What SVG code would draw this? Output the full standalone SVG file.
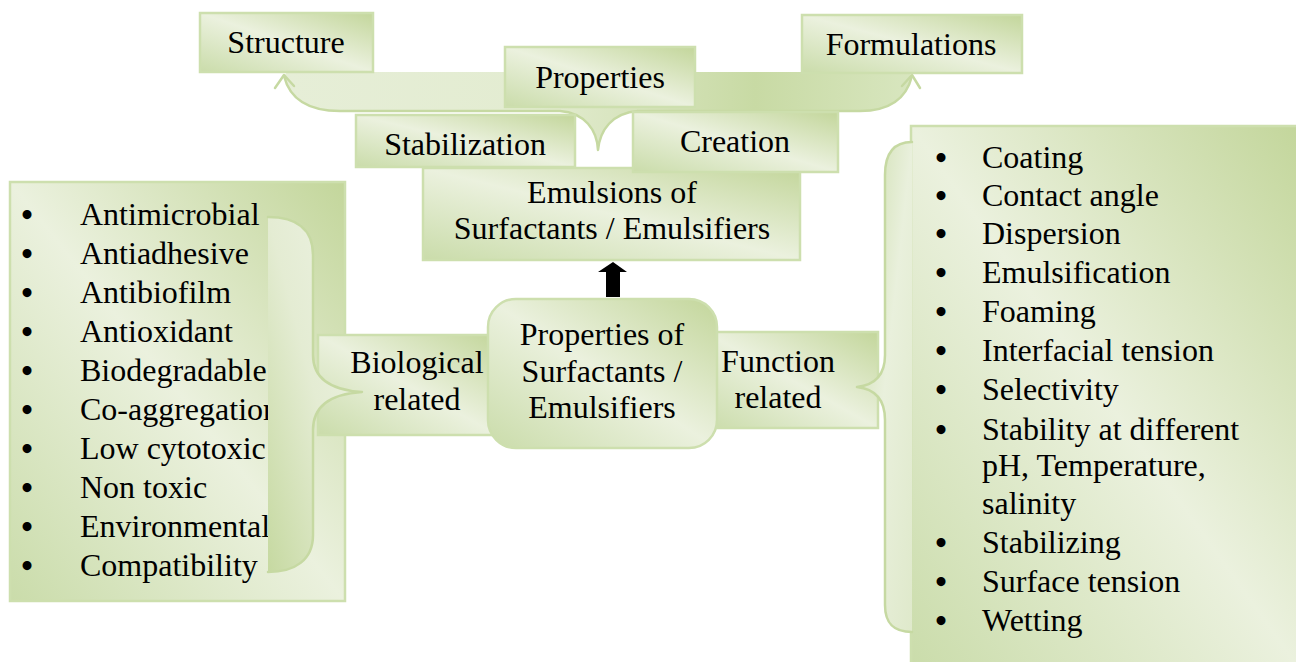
<svg xmlns="http://www.w3.org/2000/svg" width="1296" height="662" viewBox="0 0 1296 662">
  <defs>
    <linearGradient id="gBox" x1="1" y1="0" x2="0" y2="1">
      <stop offset="0" stop-color="#c3d69b"/>
      <stop offset="0.5" stop-color="#ebf1de"/>
      <stop offset="1" stop-color="#cadcaa"/>
    </linearGradient>
    <linearGradient id="gBraceL" x1="1" y1="0" x2="0" y2="1">
      <stop offset="0" stop-color="#eef3e5"/>
      <stop offset="0.5" stop-color="#e4ecd3"/>
      <stop offset="1" stop-color="#c6d9a1"/>
    </linearGradient>
    <linearGradient id="gBraceR" x1="0" y1="0" x2="1" y2="1">
      <stop offset="0" stop-color="#c9dba6"/>
      <stop offset="0.5" stop-color="#e9f0dc"/>
      <stop offset="1" stop-color="#dfe9cb"/>
    </linearGradient>
    <linearGradient id="gBand" x1="0" y1="0" x2="1" y2="0">
      <stop offset="0" stop-color="#e6eed7"/>
      <stop offset="0.4" stop-color="#e3ecd1"/>
      <stop offset="0.75" stop-color="#c8daa4"/>
      <stop offset="1" stop-color="#d8e6bf"/>
    </linearGradient>
  </defs>
  <style>
    .box { fill: url(#gBox); stroke: #cddfae; stroke-width: 2.5; }
    .line { fill: none; stroke: #c6d9a2; stroke-width: 2.5; stroke-linejoin: round; stroke-linecap: round; }
    text { font-family: "Liberation Serif", "DejaVu Serif", serif; font-size: 32px; fill: #000; }
    .c { text-anchor: middle; }
    .b text { text-anchor: middle; font-size: 33px; font-weight: bold; }
  </style>

  <!-- Left list -->
  <g id="biological-list">
    <rect class="box" x="10" y="182" width="335" height="419"/>
    <g class="b">
      <text x="27" y="226">•</text><text x="27" y="265">•</text><text x="27" y="304">•</text>
      <text x="27" y="343">•</text><text x="27" y="382">•</text><text x="27" y="421">•</text>
      <text x="27" y="460">•</text><text x="27" y="499">•</text><text x="27" y="538">•</text>
      <text x="27" y="577">•</text>
    </g>
    <text x="80" y="225">Antimicrobial</text>
    <text x="80" y="264">Antiadhesive</text>
    <text x="80" y="303">Antibiofilm</text>
    <text x="80" y="342">Antioxidant</text>
    <text x="80" y="381">Biodegradable</text>
    <text x="80" y="420">Co-aggregation</text>
    <text x="80" y="459">Low cytotoxic</text>
    <text x="80" y="498">Non toxic</text>
    <text x="80" y="537">Environmental</text>
    <text x="80" y="576">Compatibility</text>
  </g>

  <!-- Right list -->
  <g id="function-list">
    <rect class="box" x="911" y="126" width="390" height="545"/>
    <g class="b">
      <text x="941" y="169">•</text><text x="941" y="207">•</text><text x="941" y="245">•</text>
      <text x="941" y="284">•</text><text x="941" y="323">•</text><text x="941" y="362">•</text>
      <text x="941" y="401">•</text><text x="941" y="441">•</text><text x="941" y="554">•</text>
      <text x="941" y="593">•</text><text x="941" y="632">•</text>
    </g>
    <text x="982" y="168">Coating</text>
    <text x="982" y="206">Contact angle</text>
    <text x="982" y="244">Dispersion</text>
    <text x="982" y="283">Emulsification</text>
    <text x="982" y="322">Foaming</text>
    <text x="982" y="361">Interfacial tension</text>
    <text x="982" y="400">Selectivity</text>
    <text x="982" y="440">Stability at different</text>
    <text x="982" y="476">pH, Temperature,</text>
    <text x="982" y="514">salinity</text>
    <text x="982" y="553">Stabilizing</text>
    <text x="982" y="592">Surface tension</text>
    <text x="982" y="631">Wetting</text>
  </g>

  <!-- Side label boxes -->
  <g id="biological-related">
    <rect class="box" x="318" y="335" width="180" height="100"/>
    <text class="c" x="417" y="373">Biological</text>
    <text class="c" x="417" y="410">related</text>
  </g>
  <g id="function-related">
    <rect class="box" x="705" y="332" width="173" height="96"/>
    <text class="c" x="778" y="372">Function</text>
    <text class="c" x="778" y="408">related</text>
  </g>

  <!-- Connectors -->
  <g id="connectors">
    <path d="M268,217 C295,217 313,228 313,255 L313,355 C313,378 330,390 362,392 C330,394 313,406 313,430 L313,535 C313,560 295,572 268,572 Z" fill="url(#gBraceL)"/>
    <path class="line" d="M268,217 C295,217 313,228 313,255 L313,355 C313,378 330,390 362,392 C330,394 313,406 313,430 L313,535 C313,560 295,572 268,572"/>
    <path d="M912,142 C895,142 885,152 885,175 L885,355 C885,375 875,385 857,387 C875,389 885,399 885,420 L885,605 C885,625 895,632 912,632 Z" fill="url(#gBraceR)"/>
    <path class="line" d="M912,142 C895,142 885,152 885,175 L885,355 C885,375 875,385 857,387 C875,389 885,399 885,420 L885,605 C885,625 895,632 912,632"/>
    <polygon points="613,262 627,272 620,272 620,297 606,297 606,272 598,272" fill="#000"/>
    <path d="M284,76 C290,100 310,111 340,111 L560,111 C585,113 597,130 598,150 C600,130 612,113 638,111 L860,111 C888,111 906,100 912,76 L909,72 L287,72 Z" fill="url(#gBand)"/>
    <path class="line" d="M284,76 C290,100 310,111 340,111 L560,111 C585,113 597,130 598,150 C600,130 612,113 638,111 L860,111 C888,111 906,100 912,76"/>
    <polyline class="line" points="275,88 284,75 294,86"/>
    <polyline class="line" points="902,86 912,75 920,88"/>
  </g>

  <!-- Center -->
  <g id="properties-center">
    <rect class="box" x="488" y="299" width="229" height="149" rx="28" ry="28"/>
    <text class="c" x="602" y="345">Properties of</text>
    <text class="c" x="602" y="382">Surfactants /</text>
    <text class="c" x="602" y="418">Emulsifiers</text>
  </g>

  <!-- Top -->
  <g id="structure">
    <rect class="box" x="200" y="13" width="173" height="59"/>
    <text class="c" x="286" y="53">Structure</text>
  </g>
  <g id="formulations">
    <rect class="box" x="802" y="15" width="220" height="58"/>
    <text class="c" x="911" y="55">Formulations</text>
  </g>
  <g id="properties">
    <rect class="box" x="505" y="47" width="190" height="60"/>
    <text class="c" x="600" y="88">Properties</text>
  </g>
  <g id="emulsions">
    <rect class="box" x="423" y="168" width="377" height="92"/>
    <text class="c" x="612" y="203">Emulsions of</text>
    <text class="c" x="612" y="239">Surfactants / Emulsifiers</text>
  </g>
  <g id="stabilization">
    <rect class="box" x="356" y="115" width="219" height="52"/>
    <text class="c" x="465" y="155">Stabilization</text>
  </g>
  <g id="creation">
    <rect class="box" x="633" y="112" width="205" height="60"/>
    <text class="c" x="735" y="152">Creation</text>
  </g>
</svg>
